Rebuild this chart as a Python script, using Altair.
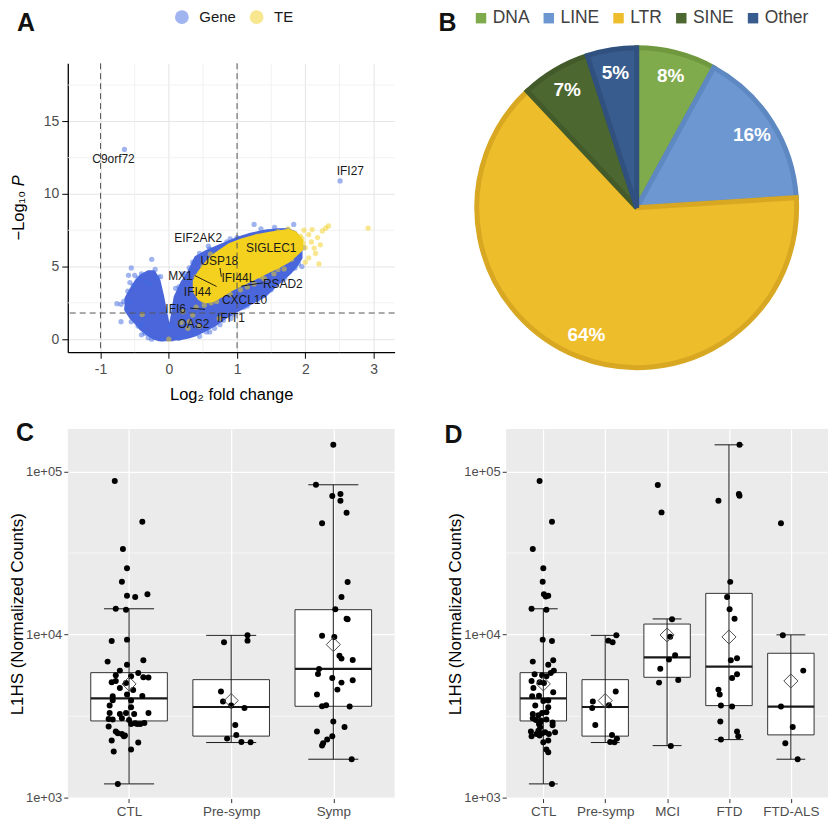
import json
import altair as alt
import pandas as pd

FONT = "Liberation Sans"

# ---------------- Panel A : volcano ----------------
# dense cloud envelopes (log2FC, lower / upper -log10 P)
GENE_ENV_LFC = [-0.62, -0.55, -0.47, -0.40, -0.30, -0.22, -0.15, -0.10, -0.05, 0.01, 0.06, 0.10, 0.20,
                0.30, 0.40, 0.55, 0.70, 0.85, 1.00, 1.20, 1.40, 1.60, 1.75, 1.85, 1.93]
GENE_ENV_LO = [2.0, 1.5, 1.1, 0.7, 0.35, 0.1, 0.0, 0.0, 0.0, 0.0, 0.0, 0.05, 0.1,
               0.2, 0.35, 0.7, 1.1, 1.6, 2.0, 2.5, 3.0, 3.9, 4.5, 5.0, 5.6]
GENE_ENV_HI = [2.8, 3.4, 4.0, 4.35, 4.6, 4.6, 4.0, 3.0, 1.8, 0.4, 1.7, 2.9, 3.9,
               4.6, 5.6, 6.0, 6.3, 6.6, 6.9, 7.2, 7.4, 7.5, 7.5, 7.3, 6.8]
TE_ENV_LFC = [0.38, 0.45, 0.55, 0.65, 0.77, 0.90, 1.07, 1.25, 1.46, 1.60, 1.75, 1.85, 1.94]
TE_ENV_LO = [3.3, 2.8, 2.6, 2.7, 3.0, 3.4, 3.8, 4.2, 4.7, 5.0, 5.4, 5.8, 6.2]
TE_ENV_HI = [4.0, 4.6, 5.2, 5.7, 6.1, 6.5, 6.8, 7.05, 7.24, 7.35, 7.45, 7.3, 6.8]

# individual (edge / outlying) points
GENE_LFC = [-0.65, 2.51, 1.25, 1.83, 1.66, 1.74, 1.45, 1.04, 0.77, 0.58, 0.48, -0.25, -0.55, -0.59,
            -0.50, -0.57, -0.76, -0.70, -0.70, -0.57, -0.62, 1.95, 1.74, 1.52, 1.31, 1.52, 1.25, 1.08,
            0.91, 0.67, 0.38, -0.25, -0.40, -0.29, -0.35, -0.16, 1.45, 1.69, 1.71, 0.30, 0.20, 0.10,
            -0.45, -0.40, -0.50, 0.55, 0.80, 1.10, 1.40, 1.65, 1.85, 1.90, 1.00, 0.85, 0.65, 0.15,
            -0.10, 0.25,
            -0.66, -0.60, -0.52, -0.45, -0.35, -0.30, -0.20, -0.12, 0.02, 0.07, 0.15, 0.25, 0.35,
            0.45, 0.60, 0.45, 0.60, 0.75, 0.95, 1.15, 1.30, 1.50, 1.70, 1.90, 1.97, 1.35, 1.55,
            0.90, -0.55, -0.40]
GENE_NLP = [13.07, 10.9, 7.9, 7.9, 7.45, 7.55, 7.4, 6.77, 6.2, 6.4, 5.45, 5.5, 4.9, 4.4,
            4.4, 3.9, 2.44, 2.4, 1.2, 2.6, 2.1, 5.0, 4.6, 4.5, 3.48, 3.8, 2.8, 2.68,
            1.43, 0.75, 0.4, 0.0, 0.3, 3.8, 4.0, 4.27, 6.5, 7.45, 7.2, 4.9, 4.5, 3.5,
            4.2, 1.0, 1.6, 0.5, 1.3, 2.2, 3.0, 4.0, 4.9, 6.0, 7.0, 6.7, 6.1, 0.05,
            0.0, 0.2,
            2.6, 3.3, 3.7, 0.9, 0.4, 0.1, 4.8, 4.3, 0.9, 2.3, 3.6, 4.5, 5.3,
            5.9, 6.2, 0.2, 0.5, 1.0, 1.7, 2.3, 2.7, 3.4, 4.2, 5.2, 6.3, 7.6, 7.7,
            6.9, 1.2, 4.5]
TE_LFC = [2.92, 2.30, 2.34, 2.25, 2.10, 1.98, 1.93, 2.00, 2.09, 2.13, 2.20, 2.05, 1.83, 1.79,
          1.88, 0.61, 0.86, 0.50, 0.35, 0.21, -0.39, 0.00, 0.18, 0.28, 0.52, 0.74, 1.40, 1.54,
          1.69, 1.25, 2.18, 2.22, 1.95, 2.05, 0.30, 0.45, 0.40, 0.62, 1.05, 0.95, 1.30, 1.60,
          2.15, 2.00,
          0.40, 0.50, 0.70, 0.90, 1.15, 1.35, 1.60, 1.80, 1.97, 1.75]
TE_NLP = [7.64, 7.64, 7.8, 7.45, 7.55, 7.5, 7.1, 6.3, 6.7, 6.27, 5.18, 5.6, 5.86, 6.5,
          6.2, 5.86, 6.1, 2.68, 1.66, 1.89, 1.7, 0.0, 1.14, 0.75, 2.34, 1.43, 4.16, 4.5,
          4.84, 3.8, 7.0, 6.5, 6.9, 7.2, 1.2, 0.9, 2.2, 2.5, 3.4, 6.5, 7.1, 7.4,
          5.9, 5.3,
          4.3, 5.0, 2.6, 3.1, 3.6, 4.3, 4.8, 5.5, 6.6, 7.6]

LABELS = ["C9orf72", "IFI27", "EIF2AK2", "SIGLEC1", "USP18", "MX1", "IFI44L", "RSAD2",
          "IFI44", "CXCL10", "IFI6", "IFIT1", "OAS2"]
LABEL_LFC = [-0.81, 2.66, 0.43, 1.50, 0.74, 0.17, 1.02, 1.67, 0.42, 1.11, 0.10, 0.91, 0.36]
LABEL_NLP = [12.4, 11.55, 7.0, 6.25, 5.36, 4.34, 4.23, 3.82, 3.25, 2.73, 2.11, 1.48, 1.05]

SEG_X1 = [0.38, 0.75, 1.06, 0.31]
SEG_Y1 = [4.38, 4.90, 3.65, 2.14]
SEG_X2 = [0.70, 0.77, 1.38, 0.53]
SEG_Y2 = [3.63, 4.30, 3.88, 2.05]

CUT_LFC = [-1, 1]
CUT_NLP = [1.8]
A_X_TICKS = [-1, 0, 1, 2, 3]
A_Y_TICKS = [0, 5, 10, 15]
A_MINOR_X = [-0.5, 0.5, 1.5, 2.5]
A_MINOR_Y = [2.5, 7.5, 12.5, 17.5]

# ---------------- Panel B : pie ----------------
PIE_CATS = ["DNA", "LINE", "LTR", "SINE", "Other"]
PIE_PCT = [8, 16, 64, 7, 5]
PIE_ORDER = [1, 2, 3, 4, 5]
PIE_LABELS = ["8%", "16%", "64%", "7%", "5%"]
PIE_FILL = ["#80AB4C", "#6C97D1", "#EEBD2B", "#4D6731", "#395C8E"]
PIE_EDGE = ["#70993F", "#5E88C2", "#D8A823", "#435A2A", "#30517F"]

# ---------------- Panels C / D : L1HS ----------------
C_CATS = ["CTL", "Pre-symp", "Symp"]
C_LO = [1218, 2183, 1725]
C_Q1 = [2960, 2390, 3640]
C_MED = [4070, 3605, 6170]
C_Q3 = [5850, 5300, 14220]
C_HI = [14400, 9900, 82800]
C_MEAN = [4990, 3945, 8690]

C_CTL_X = [0.86, 1.13, 0.94, 0.98, 0.93, 0.98, 1.06, 1.18, 0.87, 0.97, 0.83, 0.98, 0.79, 1.14, 0.98,
           0.91, 0.87, 1.02, 1.09, 1.14, 1.19, 0.83, 0.87, 0.91, 0.97, 1.04, 0.84, 0.84, 0.98, 1.13,
           1.02, 1.02, 0.81, 0.81, 0.91, 0.97, 1.05, 1.19, 0.80, 0.84, 0.93, 1.00, 1.06, 1.11, 1.15,
           0.80, 0.87, 0.93, 0.95, 1.02, 0.83, 1.09, 0.85, 1.02, 0.89, 1.08, 0.89, 0.96]
C_CTL_Y = [87300, 49200, 33500, 25500, 21100, 17300, 17000, 17660, 14430, 14220, 9150, 9320, 6835,
           6965, 6550, 6020, 5636, 5560, 5825, 5480, 5455, 5105, 5200, 4712, 5060, 4585, 4190, 3963,
           4295, 4212, 3945, 3590, 3675, 3315, 3267, 3315, 3267, 3315, 3045, 3017, 3074, 3003, 2865,
           2838, 2878, 2733, 2547, 2465, 2385, 2838, 2244, 2182, 1922, 1977, 1218, 2838, 2488, 2408]
C_PRE_X = [2.16, 2.16, 1.93, 1.90, 1.92, 2.00, 2.13, 2.04, 2.05, 1.96, 2.10, 2.19]
C_PRE_Y = [9910, 9190, 8980, 4480, 3890, 3675, 3555, 2799, 2431, 2307, 2203, 2192]
C_SYMP_X = [3.00, 2.83, 2.99, 3.07, 3.07, 3.13, 2.89, 3.14, 3.08, 3.02, 3.13, 3.14, 2.89, 3.01, 3.06,
            3.08, 3.19, 2.86, 2.85, 2.99, 3.08, 3.19, 3.04, 2.84, 2.89, 2.93, 3.16, 3.00, 3.11, 2.84,
            2.99, 2.94, 2.90, 2.89, 3.18]
C_SYMP_Y = [145600, 82800, 70600, 72600, 66100, 55800, 48060, 21010, 17000, 14290, 12530, 12410,
            9860, 9680, 7434, 7130, 6995, 6165, 5746, 5430, 5083, 5250, 4605, 4295, 3641, 3692, 3625,
            2933, 2721, 2547, 2385, 2275, 2161, 2091, 1725]

D_CATS = ["CTL", "Pre-symp", "MCI", "FTD", "FTD-ALS"]
D_LO = [1218, 2183, 2090, 2275, 1725]
D_Q1 = [2960, 2390, 5480, 3675, 2432]
D_MED = [4070, 3605, 7265, 6370, 3622]
D_Q3 = [5850, 5300, 11610, 17900, 7690]
D_HI = [14400, 9900, 12480, 145500, 9970]
D_MEAN = [4990, 3945, 9950, 9680, 5200]

D_CTL_X = [0.94, 1.14, 0.83, 1.00, 0.99, 1.01, 1.08, 1.04, 0.81, 1.05, 0.99, 1.14, 0.83, 1.16, 1.08,
           0.86, 0.98, 1.12, 1.17, 1.05, 0.81, 0.94, 1.01, 0.84, 1.16, 0.82, 0.93, 1.00, 1.08, 0.87,
           1.08, 0.98, 0.83, 1.05, 0.92, 0.83, 0.88, 0.96, 1.05, 1.15, 0.93, 1.15, 0.95, 0.80, 0.92,
           1.19, 0.81, 0.94, 1.09, 1.00, 1.08, 1.05, 1.08, 1.14, 0.98, 1.03, 0.89, 0.95]
D_CTL_Y = [87300, 49200, 33500, 25500, 21100, 17660, 17300, 17100, 14430, 14220, 9320, 9150, 6835,
           6965, 6550, 5715, 5636, 5825, 6020, 5560, 5200, 5105, 5060, 4712, 4436, 4190, 4230, 3925,
           3945, 3675, 3590, 3315, 3267, 3350, 3207, 3074, 3003, 2976, 3017, 2892, 2838, 2786, 2708,
           2547, 2580, 2522, 2385, 2408, 2465, 2192, 2244, 1977, 1904, 1218, 2488, 2522, 2465, 2892]
D_PRE_X = [2.18, 2.05, 2.12, 2.17, 1.80, 1.79, 2.06, 1.84, 2.11, 2.19, 2.08, 2.15]
D_PRE_Y = [9910, 9190, 8980, 4480, 3890, 3555, 3692, 2799, 2431, 2307, 2203, 2192]
D_MCI_X = [2.85, 2.91, 3.08, 3.05, 3.13, 3.03, 2.89, 3.18, 2.87, 3.06]
D_MCI_Y = [82500, 56100, 12410, 9720, 7473, 7030, 6190, 5278, 5083, 2081]
D_FTD_X = [4.17, 3.83, 4.16, 4.17, 4.02, 3.97, 4.01, 4.09, 4.13, 4.03, 4.13, 4.05, 3.83, 3.85, 3.87,
           4.05, 3.86, 4.13, 4.15, 3.87]
D_FTD_Y = [145600, 66100, 72600, 71000, 21050, 17000, 14290, 12530, 7165, 6965, 5715, 5430, 4605,
           4295, 3675, 3625, 2933, 2547, 2385, 2275]
D_ALS_X = [4.84, 4.87, 5.20, 4.84, 5.03, 4.91, 5.11]
D_ALS_Y = [48060, 9910, 6020, 3625, 2721, 2161, 1725]

LOG_MAJOR = [1000, 10000, 100000]
LOG_MINOR = [3162, 31623]

BLUE_CORE = "#4B66DB"
YEL_CORE = "#F3D11E"
BLUE_PT = "#4169E1"
YEL_PT = "#F2CF1D"


def tbl(**cols):
    return pd.DataFrame(cols)


def letter(ch, dx, dy):
    return alt.Chart(tbl(t=[ch])).mark_text(
        fontSize=25, fontWeight="bold", align="center", baseline="middle", color="#111111"
    ).encode(x=alt.value(dx), y=alt.value(dy), text="t:N")


# ======== Panel A ========
sxA = alt.Scale(domain=[-1.48, 3.308], nice=False, zero=False)
syA = alt.Scale(domain=[-0.9, 19], nice=False, zero=False)
axXA = alt.Axis(values=A_X_TICKS, labelExpr="'' + datum.value", title="Log₂ fold change",
                titleFontSize=16.5, titleFontWeight="normal", titleColor="black", titlePadding=10,
                labelFontSize=14, labelColor="#4D4D4D", labelPadding=4, tickColor="black", tickSize=6,
                domainColor="black", domainWidth=1.3, grid=True, gridColor="#E6E6E6", gridWidth=1.1)
axYA = alt.Axis(values=A_Y_TICKS, title=None, labelFontSize=14, labelColor="#4D4D4D", labelPadding=3,
                tickColor="black", tickSize=6, domainColor="black", domainWidth=1.3, grid=True,
                gridColor="#E6E6E6", gridWidth=1.1)


def XA(f="x"):
    return alt.X(f"{f}:Q", scale=sxA, axis=axXA)


def YA(f="y"):
    return alt.Y(f"{f}:Q", scale=syA, axis=axYA)


colorA = alt.Color("type:N", scale=alt.Scale(domain=["Gene", "TE"], range=[BLUE_PT, YEL_PT]),
                   legend=alt.Legend(orient="none", legendX=107, legendY=-54, direction="horizontal",
                                     title=None, symbolType="circle", symbolSize=190, symbolOpacity=0.5,
                                     symbolStrokeWidth=0, labelFontSize=15, labelColor="#1A1A1A",
                                     labelOffset=10, columnPadding=13, padding=0))

a_minor_v = alt.Chart(tbl(x=A_MINOR_X)).mark_rule(color="#EFEFEF", strokeWidth=0.8).encode(x=XA())
a_minor_h = alt.Chart(tbl(y=A_MINOR_Y)).mark_rule(color="#EFEFEF", strokeWidth=0.8).encode(y=YA())
gene_area = alt.Chart(tbl(x=GENE_ENV_LFC, y=GENE_ENV_LO, y2=GENE_ENV_HI)).mark_area(
    fill=BLUE_CORE, stroke=BLUE_CORE, strokeWidth=4, strokeJoin="round", opacity=1
).encode(x=XA(), y=YA(), y2="y2:Q")
gene_pts = alt.Chart(tbl(x=GENE_LFC, y=GENE_NLP)).transform_calculate(type="'Gene'").mark_circle(
    size=28, opacity=0.5).encode(x=XA(), y=YA(), color=colorA)
te_area = alt.Chart(tbl(x=TE_ENV_LFC, y=TE_ENV_LO, y2=TE_ENV_HI)).mark_area(
    fill=YEL_CORE, stroke=YEL_CORE, strokeWidth=4, strokeJoin="round", opacity=1
).encode(x=XA(), y=YA(), y2="y2:Q")
te_pts = alt.Chart(tbl(x=TE_LFC, y=TE_NLP)).transform_calculate(type="'TE'").mark_circle(
    size=28, opacity=0.5).encode(x=XA(), y=YA(), color=colorA)
cut_v = alt.Chart(tbl(x=CUT_LFC)).mark_rule(color="#555555", strokeDash=[6, 4], strokeWidth=1).encode(x=XA())
cut_h = alt.Chart(tbl(y=CUT_NLP)).mark_rule(color="#555555", strokeDash=[6, 4], strokeWidth=1).encode(y=YA())
segs = alt.Chart(tbl(x=SEG_X1, y=SEG_Y1, x2=SEG_X2, y2=SEG_Y2)).mark_rule(
    color="#111111", strokeWidth=0.9).encode(x=XA(), y=YA(), x2="x2:Q", y2="y2:Q")
labs = alt.Chart(tbl(x=LABEL_LFC, y=LABEL_NLP, label=LABELS)).mark_text(
    fontSize=12, color="#1A1A1A").encode(x=XA(), y=YA(), text="label:N")
ytitle1 = alt.Chart(tbl(t=["−Log₁₀"])).mark_text(
    angle=270, fontSize=16.5, color="black", align="center", baseline="middle"
).encode(x=alt.value(-49), y=alt.value(153), text="t:N")
ytitle2 = alt.Chart(tbl(t=["P"])).mark_text(
    angle=270, fontSize=16.5, fontStyle="italic", color="black", align="center", baseline="middle"
).encode(x=alt.value(-49), y=alt.value(118), text="t:N")

panelA = alt.layer(a_minor_v, a_minor_h, gene_area, gene_pts, te_area, te_pts, cut_v, cut_h, segs,
                   labs, ytitle1, ytitle2, letter("A", -42, -40)).properties(width=328, height=290)

# ======== Panel B ========
pie_df = tbl(cat=PIE_CATS, pct=PIE_PCT, order=PIE_ORDER, label=PIE_LABELS)
pie_base = alt.Chart(pie_df).encode(
    theta=alt.Theta("pct:Q", stack=True),
    order=alt.Order("order:Q"),
)
pie = pie_base.mark_arc(outerRadius=160.5, strokeWidth=5).encode(
    color=alt.Color("cat:N", scale=alt.Scale(domain=PIE_CATS, range=PIE_FILL), sort=PIE_CATS,
                    legend=alt.Legend(orient="none", legendX=-34, legendY=-54, direction="horizontal",
                                      columns=5, title=None, symbolType="square", symbolSize=110,
                                      symbolStrokeWidth=0, labelFontSize=17.5, labelColor="#404040",
                                      labelOffset=3, columnPadding=10, padding=0, gridAlign="none")),
    stroke=alt.Stroke("cat:N", scale=alt.Scale(domain=PIE_CATS, range=PIE_EDGE), legend=None),
)
pie_txt = pie_base.mark_text(radius=137, fontSize=19, fontWeight="bold", color="white").encode(
    text="label:N")
panelB = alt.layer(pie, pie_txt, letter("B", -59, -40)).properties(width=262, height=290)


# ======== Panels C / D ========
def box_panel(cats, lo, q1, med, q3, hi, mean, xs, ys, width, cap_half, let, ldx, ldy):
    n = len(cats)
    sx = alt.Scale(domain=[0.4, n + 0.6], nice=False, zero=False)
    sy = alt.Scale(type="log", domain=[990, 182000], nice=False)
    ax_x = alt.Axis(values=list(range(1, n + 1)), labelExpr=json.dumps([""] + cats) + "[datum.value]",
                    title=None, grid=True, gridColor="white", gridWidth=1.2, domain=False,
                    tickColor="#333333", tickSize=4, labelColor="#4D4D4D", labelFontSize=13.5,
                    labelPadding=2)
    ax_y = alt.Axis(values=LOG_MAJOR, labelExpr="'1e+0' + round(log(datum.value) / LN10)",
                    title="L1HS (Normalized Counts)", titleFontSize=17, titleFontWeight="normal",
                    titleColor="black", titleX=-50.5, titleBaseline="middle", grid=True,
                    gridColor="white", gridWidth=1.2, domain=False, tickColor="#333333", tickSize=4,
                    labelColor="#4D4D4D", labelFontSize=13, labelPadding=2)

    def X(f):
        return alt.X(f"{f}:Q", scale=sx, axis=ax_x)

    def Y(f):
        return alt.Y(f"{f}:Q", scale=sy, axis=ax_y)

    stats = tbl(pos=list(range(1, n + 1)), lo=lo, q1=q1, med=med, q3=q3, hi=hi, mean=mean)
    base = alt.Chart(stats).transform_calculate(
        bl="datum.pos - 0.375", br="datum.pos + 0.375",
        cl=f"datum.pos - {cap_half}", cr=f"datum.pos + {cap_half}")
    minor = alt.Chart(tbl(y=LOG_MINOR)).mark_rule(color="white", strokeWidth=0.6).encode(y=Y("y"))
    box = base.mark_rect(fill="white", stroke="#333333", strokeWidth=1).encode(
        x=X("bl"), x2="br:Q", y=Y("q1"), y2="q3:Q")
    whisk = base.mark_rule(color="#1A1A1A", strokeWidth=1).encode(x=X("pos"), y=Y("lo"), y2="hi:Q")
    cap_lo = base.mark_rule(color="#1A1A1A", strokeWidth=1).encode(x=X("cl"), x2="cr:Q", y=Y("lo"))
    cap_hi = base.mark_rule(color="#1A1A1A", strokeWidth=1).encode(x=X("cl"), x2="cr:Q", y=Y("hi"))
    medl = base.mark_rule(color="#1A1A1A", strokeWidth=2.2).encode(x=X("bl"), x2="br:Q", y=Y("med"))
    pts = alt.Chart(tbl(x=xs, y=ys)).mark_circle(size=36, color="black", opacity=1).encode(
        x=X("x"), y=Y("y"))
    mn = base.mark_point(shape="diamond", size=200, filled=False, color="#4D4D4D", strokeWidth=1,
                         opacity=1).encode(x=X("pos"), y=Y("mean"))
    return alt.layer(minor, box, whisk, cap_lo, cap_hi, medl, pts, mn, letter(let, ldx, ldy)).properties(
        width=width, height=371, view=alt.ViewBackground(fill="#EBEBEB", stroke=None))


panelC = box_panel(C_CATS, C_LO, C_Q1, C_MED, C_Q3, C_HI, C_MEAN,
                   C_CTL_X + C_PRE_X + C_SYMP_X, C_CTL_Y + C_PRE_Y + C_SYMP_Y,
                   328, 0.245, "C", -43, 4)
panelD = box_panel(D_CATS, D_LO, D_Q1, D_MED, D_Q3, D_HI, D_MEAN,
                   D_CTL_X + D_PRE_X + D_MCI_X + D_FTD_X + D_ALS_X,
                   D_CTL_Y + D_PRE_Y + D_MCI_Y + D_FTD_Y + D_ALS_Y,
                   323, 0.233, "D", -53, 6)

chart = alt.concat(panelA, panelB, panelC, panelD, columns=2, spacing={"row": 77, "column": 112},
                   bounds="flush", align="each").resolve_scale(
    x="independent", y="independent", color="independent", stroke="independent", theta="independent"
).resolve_legend(color="independent").properties(padding=0).configure(
    font=FONT).configure_view(stroke=None)

chart.save("out.html", embed_options={"renderer": "svg", "actions": False})
